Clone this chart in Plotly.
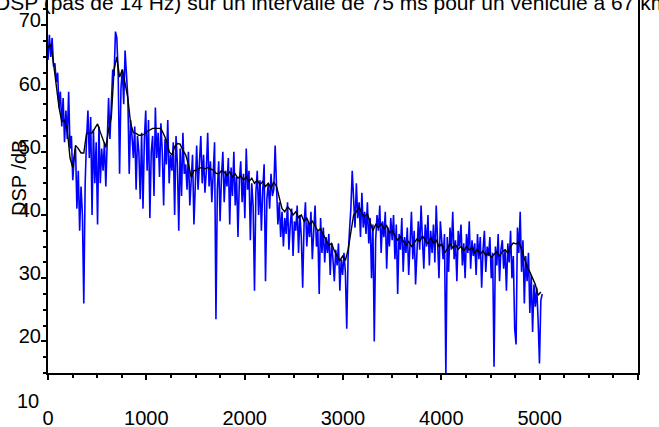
import numpy as np
import plotly.graph_objects as go

# Frequency resolution of the spectrum (Hz per bin)
STEP_HZ = 14

# Raw power spectral density, one value per 14 Hz bin (dB)
dsp_brute = [
    64.5, 68.5, 65.0, 68.0, 63.5, 64.0, 61.0, 62.5, 57.0, 59.5,
    54.0, 58.5, 51.5, 56.5, 52.0, 59.5, 50.5, 52.5, 45.5, 49.0,
    50.5, 41.0, 47.0, 37.5, 44.5, 40.0, 26.0, 45.0, 52.0, 56.5,
    49.0, 55.5, 40.0, 53.5, 45.0, 51.5, 38.5, 54.0, 45.0, 50.5,
    47.0, 51.5, 44.5, 53.5, 58.5, 52.0, 57.5, 63.0, 62.0, 69.0,
    68.0, 62.0, 46.5, 60.0, 63.0, 57.5, 66.0, 62.0, 58.5, 46.5,
    55.0, 52.5, 49.0, 54.0, 44.0, 52.5, 50.0, 42.5, 53.0, 41.0,
    52.0, 56.5, 47.0, 55.0, 39.5, 50.0, 52.5, 43.0, 57.0, 49.0,
    53.0, 46.0, 54.5, 50.0, 41.5, 52.0, 48.0, 55.0, 45.0, 49.5,
    47.0, 51.5, 40.0, 52.5, 48.0, 37.5, 50.5, 43.0, 53.0, 46.5,
    48.0, 44.0, 50.0, 41.5, 46.5, 49.5, 38.5, 45.0, 51.0, 44.0,
    47.5, 52.5, 45.0, 49.5, 43.5, 47.0, 53.0, 44.5, 48.5, 42.0,
    46.5, 51.5, 23.5, 44.0, 48.5, 39.0, 46.0, 50.0, 42.0, 47.0,
    44.5, 49.0, 38.5, 47.5, 43.0, 50.0, 41.5, 46.0, 36.5, 45.5,
    48.5, 42.0, 46.5, 39.5, 50.5, 44.0, 47.0, 36.0, 45.0, 41.5,
    28.0, 43.5, 47.0, 40.0, 45.5, 37.5, 44.0, 48.0, 29.5, 42.5,
    45.0, 41.0, 46.5, 43.0, 44.0, 51.0, 44.5, 38.5, 42.0, 36.5,
    40.5, 35.0, 39.5, 37.0, 42.0, 34.5, 38.5, 41.0, 33.5, 39.0,
    37.5, 41.5, 34.0, 40.0, 36.5, 28.5, 38.5, 42.0, 35.0, 39.0,
    36.5, 40.5, 33.0, 38.0, 41.5, 35.0, 37.5, 27.5, 39.5, 34.0,
    38.0, 32.5, 36.5, 34.0, 37.0, 30.5, 35.5, 33.0, 29.5, 34.5,
    32.0, 35.5, 28.0, 33.0, 30.5, 34.0, 31.0, 22.0, 33.5, 37.5,
    41.0, 47.0, 42.5, 38.0, 45.0, 39.5, 42.0, 36.5, 43.5, 38.0,
    40.5, 37.0, 42.0, 35.5, 39.5, 30.0, 38.5, 20.0, 36.0, 40.0,
    37.5, 41.5, 34.0, 39.0, 36.5, 40.5, 31.5, 38.0, 35.0, 39.5,
    36.0, 40.0, 33.0, 38.5, 27.5, 37.0, 34.5, 39.5, 31.0, 36.5,
    34.0, 38.0, 30.5, 36.5, 40.5, 33.0, 37.5, 29.0, 35.5, 39.0,
    34.5, 41.5, 36.0, 31.5, 38.5, 35.0, 40.0, 32.0, 37.5, 34.0,
    38.5, 32.5, 41.5, 36.0, 30.0, 39.0, 35.5, 33.0, 37.0, 14.5,
    36.5, 31.0, 38.0, 34.5, 40.5, 33.0, 36.0, 29.5, 37.5, 35.0,
    38.5, 32.0, 35.5, 30.0, 37.0, 34.0, 39.0, 31.5, 36.0, 33.5,
    35.5, 30.5, 37.0, 33.0, 36.5, 28.5, 34.5, 37.5, 31.0, 35.0,
    33.5, 36.5, 30.0, 34.0, 16.0, 35.0, 32.0, 37.0, 29.5, 34.5,
    36.0, 31.5, 34.5, 28.0, 35.5, 32.5, 37.5, 30.0, 33.5, 22.0,
    19.5, 38.0, 34.0, 40.5, 31.0, 36.0, 26.0, 33.5, 29.5, 34.0,
    24.5, 30.5, 21.5, 29.0, 25.5, 28.5, 23.5, 16.5, 26.5, 27.5,
]

# Smoothed spectrum, one value every second bin (dB)
dsp_lissee = [
    66.5, 67.0, 64.0, 60.5, 57.0,
    54.8, 55.0, 53.5, 49.0, 47.5,
    51.0, 50.5, 49.8, 49.8, 52.9,
    52.9, 53.0, 53.7, 54.4, 53.1,
    51.8, 50.7, 53.5, 55.5, 63.0,
    65.0, 61.8, 63.0, 60.8, 58.5,
    54.5, 53.0, 52.9, 52.6, 52.6,
    52.8, 53.2, 53.5, 53.7, 53.7,
    53.7, 53.7, 52.8, 51.8, 50.0,
    49.5, 50.8, 51.3, 51.2, 50.2,
    49.5, 48.0, 46.0, 47.0, 47.1,
    47.4, 47.5, 47.3, 47.5, 47.3,
    47.1, 46.6, 46.5, 47.0, 46.8,
    46.3, 46.8, 46.0, 46.5, 45.8,
    46.2, 45.5, 46.0, 45.3, 45.8,
    45.0, 45.5, 44.8, 45.3, 44.5,
    45.0, 44.2, 45.2, 44.5, 42.5,
    41.0, 40.5, 41.3, 40.8, 40.0,
    40.5, 39.6, 40.0, 39.0, 39.5,
    38.5, 39.0, 38.2, 37.5, 37.8,
    36.8, 36.0, 35.2, 35.5, 34.3,
    33.5, 32.8, 33.5, 32.8, 34.5,
    37.5, 40.0, 40.5, 41.3, 40.2,
    39.8, 40.2, 38.8, 37.5, 38.5,
    38.0, 38.6, 37.8, 38.3, 37.2,
    37.5, 36.8, 36.0, 36.6, 35.8,
    35.2, 35.8, 35.0, 35.6, 36.2,
    35.8, 36.7, 36.0, 35.5, 36.4,
    35.6, 36.0, 35.0, 35.4, 34.0,
    34.6, 35.5, 34.8, 35.3, 34.6,
    35.0, 34.3, 35.0, 34.5, 34.8,
    34.0, 34.6, 33.8, 34.3, 33.6,
    34.0, 33.3, 33.8, 34.2, 33.5,
    34.2, 34.5, 34.0, 35.0, 35.6,
    35.4, 35.8, 34.5, 33.0, 31.8,
    31.0, 30.0, 29.0, 27.3, 27.8,
]

y_range = [15, 74]
x_range = [0, 6000]
y_tick_values = [20, 30, 40, 50, 60, 70]
y_extra_tick = 10
x_tick_values = [0, 1000, 2000, 3000, 4000, 5000, 6000]

titre = "DSP (pas de 14 Hz) sur un intervalle de 75 ms pour un véhicule à 67 km/h"
label_y = "DSP /dB"

freq_brute = np.arange(len(dsp_brute)) * STEP_HZ
freq_lissee = freq_brute[::2][:len(dsp_lissee)]

FONT = dict(family="Liberation Sans, Arial, sans-serif", size=20, color="black")
TITLE_FONT = dict(FONT, size=21)

fig = go.Figure()
fig.add_trace(go.Scatter(
    x=freq_brute, y=dsp_brute, mode="lines",
    line=dict(color="#0000ff", width=1.6), showlegend=False,
))
fig.add_trace(go.Scatter(
    x=freq_lissee, y=dsp_lissee, mode="lines",
    line=dict(color="black", width=1.4), showlegend=False,
))

fig.update_layout(
    width=659, height=427,
    margin=dict(l=48, r=21, t=0, b=54),
    paper_bgcolor="white", plot_bgcolor="white",
    font=FONT,
    xaxis=dict(
        range=x_range, tickvals=x_tick_values, automargin=False,
        showgrid=False, zeroline=False,
        showline=True, linecolor="black", linewidth=2,
        ticks="outside", ticklen=5, tickwidth=2, tickcolor="black",
        minor=dict(dtick=250, ticks="outside", ticklen=3, tickwidth=2, tickcolor="black"),
        ticklabelstandoff=21,
    ),
    yaxis=dict(
        range=y_range, tickvals=y_tick_values, automargin=False,
        showgrid=False, zeroline=False,
        showline=True, linecolor="black", linewidth=2, mirror=True,
        ticks="outside", ticklen=5, tickwidth=2, tickcolor="black",
        minor=dict(dtick=2.5, ticks="outside", ticklen=3, tickwidth=2, tickcolor="black"),
        ticklabelshift=-5, ticklabelstandoff=-4,
    ),
)

# Lowest y tick label sits below the axis line; place it through the y scale
y_extra_paper = (y_extra_tick - y_range[0]) / (y_range[1] - y_range[0])
fig.add_annotation(
    x=0, xref="paper", y=y_extra_paper, yref="paper", text=str(y_extra_tick),
    showarrow=False, xanchor="right", yanchor="middle", xshift=-7, yshift=4,
    font=FONT,
)

# Title overlapping the top edge of the frame
fig.add_annotation(
    x=0.5, xref="paper", y=1, yref="paper", text=titre, showarrow=False,
    xanchor="center", yanchor="middle", yshift=-2, xshift=-3, font=TITLE_FONT,
)

# Vertical axis label drawn over the tick labels
fig.add_annotation(
    x=0, xref="paper", y=0.523, yref="paper", text=label_y, showarrow=False,
    textangle=-90, xanchor="center", yanchor="middle", xshift=-29, font=FONT,
)

fig.write_html("out.html")
